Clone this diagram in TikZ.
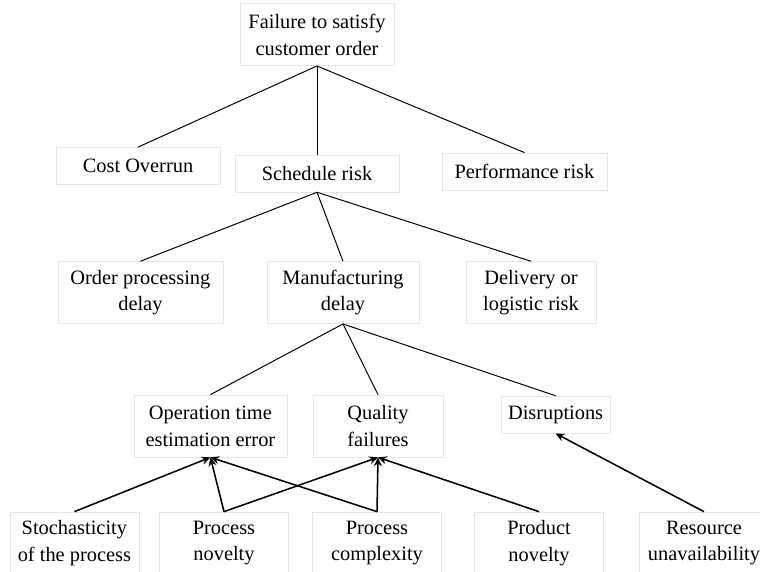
\documentclass[tikz,border=0pt]{standalone}
\usepackage{fontspec}
\setmainfont{Liberation Serif}
\usetikzlibrary{arrows.meta,positioning}

\begin{document}
\begin{tikzpicture}[
  box/.style={draw=black!10,line width=.5pt,minimum width=3.25cm,minimum height=.925cm,
              align=center,font=\fontsize{14.5}{19}\selectfont,inner sep=2pt},
  tall/.style={box,minimum height=1.55cm},
  link/.style={line width=.7pt},
  edge/.style={-{Stealth[length=2.2mm,width=2mm]},line width=1.1pt}
]
  \useasboundingbox (0,0) rectangle (19,14.275);

  % top event and first split
  \node[tall,minimum width=3.85cm] (root) at (7.925,13.41) {Failure to satisfy\\customer order};
  \node[box,minimum width=4.1cm] (cost) at (3.45,10.125) {Cost Overrun};
  \node[box,minimum width=4.1cm] (sched) at (7.925,9.94) {Schedule risk};
  \node[box,minimum width=4.125cm] (perf) at (13.11,9.99) {Performance risk};
  \draw[link] (root.south) -- (cost.north);
  \draw[link] (root.south) -- (sched.north);
  \draw[link] (root.south) -- (perf.north);

  % schedule risk
  \node[tall,minimum width=4.125cm] (order) at (3.51,6.96) {Order processing\\delay};
  \node[tall,minimum width=3.8cm] (manuf) at (8.575,6.96) {Manufacturing\\delay};
  \node[tall] (deliv) at (13.275,6.96) {Delivery or\\logistic risk};
  \draw[link] (sched.south) -- (order.north);
  \draw[link] (sched.south) -- (manuf.north);
  \draw[link] (sched.south) -- (deliv.north);

  % manufacturing delay
  \node[tall,minimum width=3.825cm] (optime) at (5.26,3.625) {Operation time\\estimation error};
  \node[tall] (quality) at (9.45,3.625) {Quality\\failures};
  \node[box,minimum width=2.725cm] (disrupt) at (13.89,3.91) {Disruptions};
  \draw[link] (manuf.south) -- (optime.north);
  \draw[link] (manuf.south) -- (quality.north);
  \draw[link] (manuf.south) -- (disrupt.north);

  % causes
  \node[tall,minimum width=3.225cm] (stoch) at (1.86,.7) {Stochasticity\\of the process};
  \node[tall,minimum width=3.225cm] (pnov) at (5.6,.7) {Process\\novelty};
  \node[tall,minimum width=3.225cm] (pcomp) at (9.425,.7) {Process\\complexity};
  \node[tall,minimum width=3.225cm] (prnov) at (13.475,.7) {Product\\novelty};
  \node[tall] (resrc) at (17.6,.7) {Resource\\unavailability};
  \draw[edge] (stoch.north) -- (optime.south);
  \draw[edge] (pnov.north) -- (optime.south);
  \draw[edge] (pnov.north) -- (quality.south);
  \draw[edge] (pcomp.north) -- (optime.south);
  \draw[edge] (pcomp.north) -- (quality.south);
  \draw[edge] (prnov.north) -- (quality.south);
  \draw[edge] (resrc.north) -- (disrupt.south);
\end{tikzpicture}
\end{document}
